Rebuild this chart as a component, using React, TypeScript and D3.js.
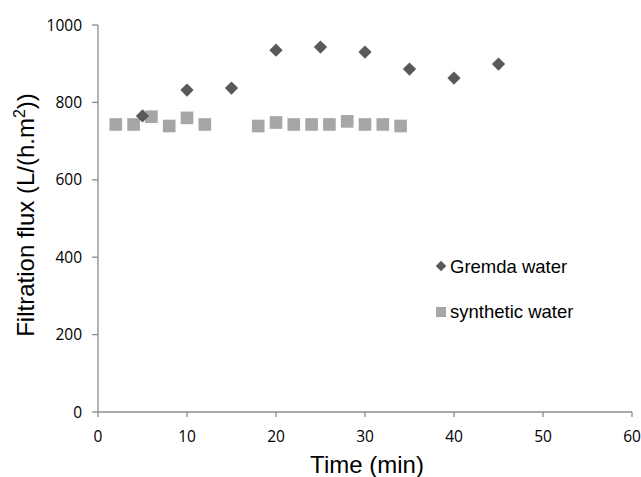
import React from "react";
import * as d3 from "d3";

const WIDTH = 641;
const HEIGHT = 477;

// Gremda water (diamonds)
const gremdaTime = [5, 10, 15, 20, 25, 30, 35, 40, 45];
const gremdaFlux = [765, 832, 837, 935, 943, 930, 886, 863, 899];

// synthetic water (squares)
const synthTime = [2, 4, 6, 8, 10, 12, 18, 20, 22, 24, 26, 28, 30, 32, 34];
const synthFlux = [743, 743, 763, 739, 760, 743, 739, 748, 743, 743, 743, 751, 743, 743, 739];

const xTicks = [0, 10, 20, 30, 40, 50, 60];
const yTicks = [0, 200, 400, 600, 800, 1000];

const AXIS_COLOR = "#8c8c8c";
const DIAMOND_COLOR = "#595959";
const SQUARE_COLOR = "#a6a6a6";
const TICK_FONT = "'Open Sans', sans-serif";
const TITLE_FONT = "'Liberation Sans', Arial, sans-serif";

export default function App() {
    const x = d3.scaleLinear().domain([0, 60]).range([98, 632]);
    const y = d3.scaleLinear().domain([0, 1000]).range([412, 25]);

    const diamond = d3.symbol(d3.symbolSquare, 88)();
    const square = d3.symbol(d3.symbolSquare, 160)();
    const legendDiamond = d3.symbol(d3.symbolSquare, 55)();
    const legendSquare = d3.symbol(d3.symbolSquare, 100)();

    const [x0, x1] = x.range();
    const [y0, y1] = y.range();

    return (
        <svg width={WIDTH} height={HEIGHT} style={{position: "absolute", left: 0, top: 0, background: "#fff"}}>
            {/* axes */}
            <g stroke={AXIS_COLOR} strokeWidth={1.3} fill="none">
                <line x1={x0} x2={x0} y1={y0} y2={y1}/>
                <line x1={x0} x2={x1} y1={y0} y2={y0}/>
                {yTicks.map(t => <line key={"yt" + t} x1={x0 - 6} x2={x0} y1={y(t)} y2={y(t)}/>)}
                {xTicks.map(t => <line key={"xt" + t} x1={x(t)} x2={x(t)} y1={y0} y2={y0 + 5}/>)}
            </g>
            <g fontFamily={TICK_FONT} fontSize={15.5} fill="#000">
                {yTicks.map(t => (
                    <text key={"yl" + t} x={x0 - 16} y={y(t)} dy="0.36em" textAnchor="end">{t}</text>
                ))}
                {xTicks.map(t => (
                    <text key={"xl" + t} x={x(t)} y={442} textAnchor="middle">{t}</text>
                ))}
            </g>

            {/* titles */}
            <text x={367} y={473} textAnchor="middle" fontFamily={TITLE_FONT} fontSize={24}>Time (min)</text>
            <text transform="translate(34,215) rotate(-90)" textAnchor="middle" fontFamily={TITLE_FONT} fontSize={24}>
                Filtration flux (L/(h.m<tspan dy={-9} fontSize={16}>2</tspan><tspan dy={9}>))</tspan>
            </text>

            {/* series */}
            <g fill={SQUARE_COLOR}>
                {synthTime.map((t, i) => (
                    <path key={"s" + i} d={square!} transform={`translate(${x(t)},${y(synthFlux[i])})`}/>
                ))}
            </g>
            <g fill={DIAMOND_COLOR}>
                {gremdaTime.map((t, i) => (
                    <path key={"g" + i} d={diamond!} transform={`translate(${x(t)},${y(gremdaFlux[i])}) rotate(45)`}/>
                ))}
            </g>

            {/* legend */}
            <g fontFamily={TITLE_FONT} fontSize={18.5}>
                <path d={legendDiamond!} fill={DIAMOND_COLOR} transform="translate(441,266) rotate(45)"/>
                <text x={450} y={273}>Gremda water</text>
                <path d={legendSquare!} fill={SQUARE_COLOR} transform="translate(441,312)"/>
                <text x={450} y={318}>synthetic water</text>
            </g>
        </svg>
    );
}
